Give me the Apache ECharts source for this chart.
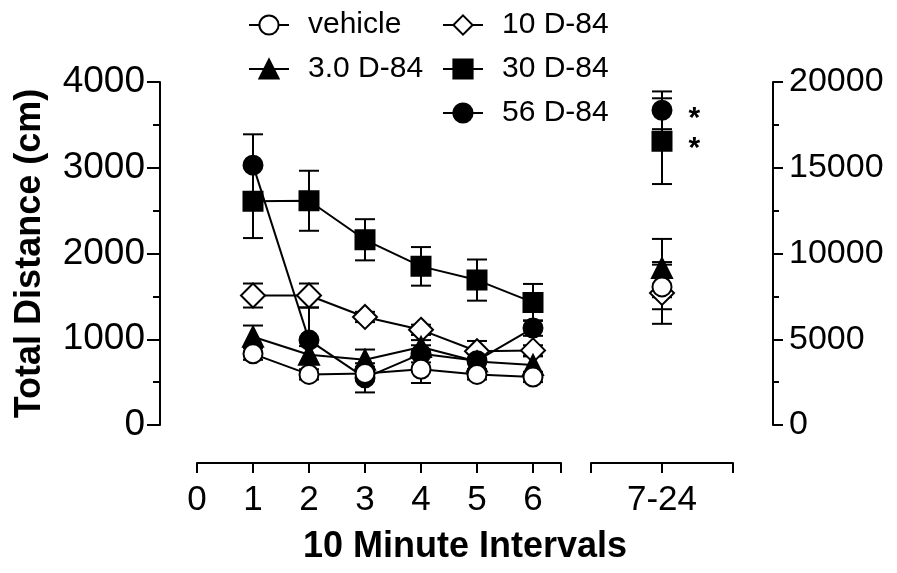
<!DOCTYPE html>
<html lang="en">
<head>
    <meta charset="UTF-8">
    <title>Total Distance</title>
    <script src="https://cdn.jsdelivr.net/npm/echarts@6/dist/echarts.min.js"></script>
    <style>
        html, body { margin: 0; padding: 0; background: #fff; }
        #container { width: 897px; height: 573px; }
    </style>
</head>
<body>
<div id="container"></div>
<script>
    // 10 minute intervals 1-6 (left axis, cm)
    const intervals = [1, 2, 3, 4, 5, 6];
    const periodLabels = ['7-24'];
    const seriesNames = ['vehicle', '3.0 D-84', '10 D-84', '30 D-84', '56 D-84'];

    const vehicleMean = [830, 590, 600, 650, 590, 560];
    const vehicleSem = [70, 60, 80, 160, 60, 60];
    const d3Mean = [1030, 820, 760, 910, 740, 700];
    const d3Sem = [130, 100, 120, 80, 90, 100];
    const d10Mean = [1510, 1510, 1260, 1110, 860, 870];
    const d10Sem = [140, 140, 60, 60, 120, 60];
    const d30Mean = [2610, 2615, 2160, 1850, 1690, 1430];
    const d30Sem = [430, 350, 240, 225, 240, 215];
    const d56Mean = [3030, 990, 550, 830, 750, 1130];
    const d56Sem = [360, 380, 170, 100, 100, 90];

    // intervals 7-24 (right axis, cm)
    const lateMean = [8050, 9150, 7700, 16550, 18350];
    const lateSem = [1300, 1700, 1800, 2500, 1100];
    const lateStar = [false, false, false, true, true];

    const leftTicks = [0, 1000, 2000, 3000, 4000];
    const rightTicks = [0, 5000, 10000, 15000, 20000];

    const font = "'Liberation Sans', Arial, sans-serif";
    const means = [vehicleMean, d3Mean, d10Mean, d30Mean, d56Mean];
    const sems = [vehicleSem, d3Sem, d10Sem, d30Sem, d56Sem];
    const symbols = ['circle', 'triangle', 'diamond', 'rect', 'circle'];
    const sizes = [19, 20, 24, 19, 19];
    const fills = ['#fff', '#000', '#fff', '#000', '#000'];
    const zs = [7, 4, 3, 5, 6];

    function errorBar(params, api) {
        const x = api.value(0);
        const top = api.coord([x, api.value(2)]);
        const bot = api.coord([x, api.value(1)]);
        const w = 10;
        const st = { stroke: '#000', lineWidth: 2 };
        return {
            type: 'group',
            children: [
                { type: 'line', shape: { x1: top[0], y1: top[1], x2: bot[0], y2: bot[1] }, style: st },
                { type: 'line', shape: { x1: top[0] - w, y1: top[1], x2: top[0] + w, y2: top[1] }, style: st },
                { type: 'line', shape: { x1: bot[0] - w, y1: bot[1], x2: bot[0] + w, y2: bot[1] }, style: st }
            ]
        };
    }

    const series = [];
    seriesNames.forEach(function (name, i) {
        series.push({
            name: name,
            type: 'line',
            xAxisIndex: 0,
            yAxisIndex: 0,
            z: zs[i],
            data: intervals.map(function (x, k) { return [x, means[i][k]]; }),
            symbol: symbols[i],
            symbolSize: sizes[i],
            lineStyle: { color: '#000', width: 2 },
            itemStyle: { color: fills[i], borderColor: '#000', borderWidth: 2, opacity: 1 },
            emphasis: { disabled: true }
        });
    });
    seriesNames.forEach(function (name, i) {
        series.push({
            name: name,
            type: 'line',
            xAxisIndex: 1,
            yAxisIndex: 1,
            z: zs[i],
            data: [[1, lateMean[i]]],
            symbol: symbols[i],
            symbolSize: sizes[i],
            lineStyle: { color: '#000', width: 2 },
            itemStyle: { color: fills[i], borderColor: '#000', borderWidth: 2, opacity: 1 },
            label: {
                show: lateStar[i],
                position: 'right',
                distance: 16,
                offset: [0, 8],
                formatter: '*',
                fontSize: 30,
                fontWeight: 'bold',
                fontFamily: font,
                color: '#000'
            },
            emphasis: { disabled: true }
        });
    });
    seriesNames.forEach(function (name, i) {
        series.push({
            name: name + ' sem',
            type: 'custom',
            xAxisIndex: 0,
            yAxisIndex: 0,
            z: 2,
            renderItem: errorBar,
            data: intervals.map(function (x, k) {
                return [x, means[i][k] - sems[i][k], means[i][k] + sems[i][k]];
            })
        });
        series.push({
            name: name + ' late sem',
            type: 'custom',
            xAxisIndex: 1,
            yAxisIndex: 1,
            z: 2,
            renderItem: errorBar,
            data: [[1, lateMean[i] - lateSem[i], lateMean[i] + lateSem[i]]]
        });
    });

    const axisLine = { show: true, onZero: false, lineStyle: { color: '#000', width: 2 } };
    const legendBase = {
        orient: 'vertical',
        itemWidth: 40,
        itemHeight: 24,
        itemGap: 14,
        selectedMode: false,
        textStyle: { fontSize: 30, fontFamily: font, color: '#000', padding: [0, 0, 0, 14] }
    };

    const dom = document.getElementById('container');
    const myChart = echarts.init(dom, null, { renderer: 'canvas' });
    const option = {
        animation: false,
        backgroundColor: '#fff',
        textStyle: { fontFamily: font },
        legend: [
            Object.assign({}, legendBase, { left: 243, top: 5, data: ['vehicle', '3.0 D-84'] }),
            Object.assign({}, legendBase, { left: 437, top: 5, data: ['10 D-84', '30 D-84', '56 D-84'] })
        ],
        grid: [
            { left: 197, right: 336, top: 82, bottom: 148 },
            { left: 591, right: 164, top: 82, bottom: 148 }
        ],
        xAxis: [
            {
                type: 'value', gridIndex: 0, min: 0, max: 6.5, interval: 1, offset: 38,
                axisLine: axisLine,
                axisTick: { show: true, length: 10, lineStyle: { color: '#000', width: 2 } },
                axisLabel: {
                    fontSize: 35, color: '#000', fontFamily: font, margin: 20,
                    formatter: function (v) { return v <= 6 && intervals.concat([0]).indexOf(v) >= 0 ? String(v) : ''; }
                },
                splitLine: { show: false }
            },
            {
                type: 'value', gridIndex: 1, min: 0, max: 2, interval: 1, offset: 38,
                axisLine: axisLine,
                axisTick: { show: true, length: 10, lineStyle: { color: '#000', width: 2 } },
                axisLabel: {
                    fontSize: 35, color: '#000', fontFamily: font, margin: 20,
                    formatter: function (v) { return v === 1 ? periodLabels[0] : ''; }
                },
                splitLine: { show: false }
            }
        ],
        yAxis: [
            {
                type: 'value', gridIndex: 0, position: 'left', offset: 37,
                min: leftTicks[0], max: leftTicks[leftTicks.length - 1], interval: 1000,
                name: 'Total Distance (cm)', nameLocation: 'middle', nameGap: 112,
                nameTextStyle: { fontSize: 36, fontWeight: 'bold', color: '#000', fontFamily: font },
                axisLine: axisLine,
                axisTick: { show: true, length: 13, lineStyle: { color: '#000', width: 2 } },
                minorTick: { show: true, splitNumber: 2, length: 7, lineStyle: { color: '#000', width: 2 } },
                axisLabel: {
                    fontSize: 37, color: '#000', fontFamily: font, margin: 15,
                    formatter: function (v) { return String(v); }
                },
                splitLine: { show: false }
            },
            {
                type: 'value', gridIndex: 1, position: 'right', offset: 40,
                min: rightTicks[0], max: rightTicks[rightTicks.length - 1], interval: 5000,
                axisLine: axisLine,
                axisTick: { show: true, length: 10, lineStyle: { color: '#000', width: 2 } },
                minorTick: { show: true, splitNumber: 2, length: 6, lineStyle: { color: '#000', width: 2 } },
                axisLabel: {
                    fontSize: 34, color: '#000', fontFamily: font, margin: 16,
                    formatter: function (v) { return String(v); }
                },
                splitLine: { show: false }
            }
        ],
        graphic: [
            {
                type: 'text', x: 465, y: 547,
                style: {
                    text: '10 Minute Intervals', fontSize: 36, fontWeight: 'bold', fontFamily: font,
                    fill: '#000', textAlign: 'center', textVerticalAlign: 'middle'
                }
            }
        ],
        series: series
    };
    myChart.setOption(option);
    window.addEventListener('resize', myChart.resize);
</script>
</body>
</html>
